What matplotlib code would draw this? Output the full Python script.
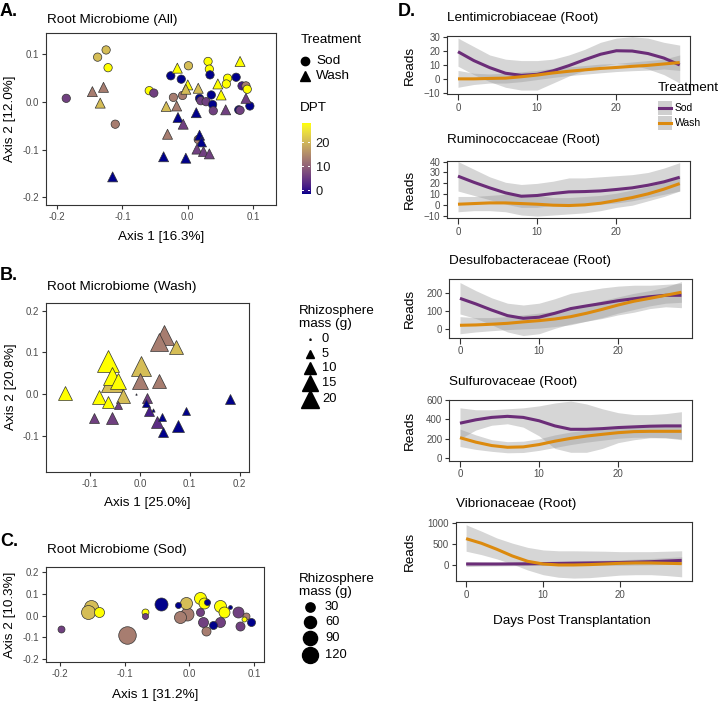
import numpy as np
import matplotlib
matplotlib.use("Agg")
import matplotlib.pyplot as plt
from matplotlib.colors import ListedColormap, Normalize
from matplotlib.patches import Rectangle
from matplotlib.lines import Line2D

plt.rcParams['font.family'] = ['Liberation Sans', 'DejaVu Sans']

# ------------------------------------------------------------------ data
# Panel A: Root microbiome (All) -- Sod (circles)
sodA_x = [-0.125, -0.138, -0.122, -0.186, -0.111, 0.001, 0.031, 0.033, 0.034, -0.026,
          -0.010, 0.061, 0.059, 0.074, 0.083, 0.089, 0.091, -0.059, -0.052, -0.022,
          -0.008, 0.036, 0.018, 0.020, 0.028, 0.038, 0.039, 0.078, 0.080, 0.095, 0.016]
sodA_y = [0.108, 0.093, 0.071, 0.007, -0.047, 0.075, 0.084, 0.068, 0.056, 0.054,
          0.047, 0.049, 0.037, 0.051, 0.033, 0.033, 0.026, 0.023, 0.018, 0.009,
          0.013, 0.014, 0.007, 0.002, 0.000, -0.006, -0.019, -0.017, -0.018, -0.009, -0.079]
sodA_dpt = [21, 21, 28, 7, 14, 21, 28, 28, 0, 0,
            0, 28, 28, 0, 3, 14, 28, 28, 7, 14,
            14, 0, 0, 7, 7, 0, 7, 0, 7, 0, 14]
# Panel A -- Wash (triangles)
washA_x = [-0.146, -0.129, -0.134, -0.115, -0.016, 0.080, 0.000, -0.003, 0.016, 0.046,
           0.051, -0.033, -0.017, 0.013, -0.015, -0.007, -0.031, 0.018, 0.021, 0.014,
           0.024, 0.033, -0.037, -0.003, 0.058, 0.089]
washA_y = [0.021, 0.030, -0.003, -0.157, 0.070, 0.084, 0.035, 0.026, 0.028, 0.037,
           0.014, -0.010, -0.009, -0.023, -0.033, -0.047, -0.068, -0.070, -0.084, -0.099,
           -0.104, -0.109, -0.115, -0.118, -0.017, 0.007]
washA_dpt = [14, 14, 21, 0, 28, 28, 28, 21, 21, 28,
             28, 21, 14, 0, 0, 7, 14, 0, 0, 7,
             7, 7, 0, 0, 7, 7]

# Panel B: Root microbiome (Wash)
washB_x = [-0.150, -0.064, -0.057, -0.057, -0.044, -0.082, -0.064, -0.035, -0.045, 0.001,
           -0.001, 0.038, 0.048, 0.038, 0.072, -0.008, 0.013, 0.012, 0.018, 0.027,
           0.035, 0.045, 0.047, 0.077, 0.092, -0.092, -0.057, 0.180]
washB_y = [0.003, 0.079, 0.042, 0.031, 0.031, -0.008, -0.020, -0.005, -0.026, 0.066,
           0.030, 0.032, 0.141, 0.125, 0.112, 0.000, -0.010, -0.022, -0.042, -0.038,
           -0.066, -0.054, -0.090, -0.076, -0.041, -0.057, -0.057, -0.012]
washB_dpt = [28, 28, 28, 21, 28, 28, 28, 21, 7, 21,
             14, 14, 14, 14, 21, 0, 7, 0, 3, 0,
             5, 0, 0, 0, 0, 7, 7, 0]
washB_mass = [12, 28, 18, 26, 14, 11, 10, 11, 4.7, 25,
              15, 12, 24, 20, 12, 0.3, 6.5, 5, 6.5, 1,
              8, 3.5, 5.5, 8, 5, 6.5, 8.8, 6.5]

# Panel C: Root microbiome (Sod)
sodC_x = [-0.199, -0.152, -0.157, -0.139, -0.096, -0.068, -0.068, -0.044, -0.017, -0.014,
          -0.003, -0.005, 0.017, 0.022, 0.028, 0.016, 0.021, 0.026, 0.037, 0.047,
          0.048, 0.053, 0.063, 0.076, 0.087, 0.085, 0.079, 0.096]
sodC_y = [-0.061, 0.039, 0.016, 0.014, -0.089, -0.001, 0.018, 0.052, 0.049, -0.007,
          0.006, 0.057, 0.080, 0.057, 0.064, 0.014, -0.032, -0.069, -0.043, -0.032,
          0.045, 0.018, 0.039, 0.014, 0.000, -0.017, -0.047, -0.029]
sodC_dpt = [7, 21, 21, 28, 14, 7, 28, 0, 0, 14,
            14, 21, 28, 28, 0, 7, 7, 14, 0, 7,
            28, 28, 0, 7, 14, 28, 7, 0]
sodC_mass = [13, 87, 87, 37, 150, 8, 13, 73, 8, 60,
             73, 60, 60, 47, 8, 20, 37, 28, 20, 37,
             60, 47, 1, 47, 13, 4, 28, 20]

# Panel D: smoothed read counts over days post transplantation
days = [0, 2, 4, 6, 8, 10, 12, 14, 16, 18, 20, 22, 24, 26, 28]
families = ["Lentimicrobiaceae (Root)", "Ruminococcaceae (Root)", "Desulfobacteraceae (Root)",
            "Sulfurovaceae (Root)", "Vibrionaceae (Root)"]

lenti_sod = [19.3, 13, 8, 4, 2.5, 3.2, 5.7, 9.4, 13.6, 17.5, 20, 19.8, 18, 14.8, 9.9]
lenti_sod_hi = [29, 23, 17, 14, 13, 13, 14, 17, 21, 26, 29, 30, 29, 26, 24]
lenti_sod_lo = [9, 3, -2, -6, -8, -8, -3, 2, 6, 9, 11, 10, 7, 3, -3]
lenti_wash = [0, 0, 0.3, 0.5, 1.5, 2.7, 4.2, 5.4, 6.4, 7.4, 8.1, 8.9, 9.6, 10.6, 11.6]
lenti_wash_hi = [6, 4, 3.5, 4, 5, 6, 7.5, 8.5, 9.5, 10.5, 11, 12, 13, 14, 17]
lenti_wash_lo = [-6, -4, -3, -3, -2, -0.5, 1, 2.3, 3.3, 4.3, 5.2, 5.8, 6.2, 7, 6]

rumino_sod = [26.6, 21, 15.9, 11.3, 8.2, 8.9, 10.7, 12.2, 12.5, 13.1, 14.4, 15.9, 18.3, 21.4, 25.6]
rumino_sod_hi = [40, 33, 26, 21, 19, 20, 22, 25, 25, 26, 27, 28, 30, 34, 39]
rumino_sod_lo = [13, 9, 5, 1, -2, -2, 0, 0, 1, 1, 2, 4, 7, 10, 13]
rumino_wash = [0.9, 1.5, 2.1, 2.1, 1.5, 0.9, 0, -0.3, 0.3, 1.8, 4.3, 7, 10.4, 14.7, 19.8]
rumino_wash_hi = [8, 8, 9, 10, 10, 9, 7, 7, 8, 9, 11, 14, 17, 21, 27]
rumino_wash_lo = [-6, -5, -5, -6, -9, -10, -9, -8, -7, -5, -2, 0, 4, 8, 13]

desulfo_sod = [172, 141, 107, 76, 61, 67, 89, 115, 130, 144, 159, 170, 181, 189, 189]
desulfo_sod_hi = [260, 215, 175, 145, 135, 145, 170, 200, 215, 230, 240, 245, 245, 250, 255]
desulfo_sod_lo = [85, 60, 25, -15, -35, -25, 5, 30, 45, 60, 80, 95, 115, 125, 120]
desulfo_wash = [22, 24, 28, 33, 41, 48, 57, 70, 89, 111, 135, 156, 172, 189, 206]
desulfo_wash_hi = [70, 65, 65, 70, 80, 90, 100, 115, 135, 160, 180, 200, 215, 235, 265]
desulfo_wash_lo = [-25, -15, -8, -2, 2, 6, 15, 25, 45, 65, 90, 110, 130, 145, 150]

sulfuro_sod = [361, 396, 421, 432, 421, 386, 333, 298, 298, 305, 316, 323, 330, 333, 333]
sulfuro_sod_hi = [520, 500, 500, 510, 520, 540, 570, 590, 560, 510, 470, 450, 450, 460, 480]
sulfuro_sod_lo = [200, 290, 340, 355, 320, 230, 100, 60, 60, 100, 160, 190, 210, 210, 190]
sulfuro_wash = [211, 165, 130, 112, 116, 140, 175, 204, 228, 246, 263, 274, 277, 277, 277]
sulfuro_wash_hi = [300, 240, 190, 170, 175, 200, 240, 270, 290, 305, 320, 330, 335, 340, 350]
sulfuro_wash_lo = [120, 90, 70, 55, 58, 80, 110, 140, 165, 185, 205, 215, 215, 210, 200]

vibrio_sod = [30, 30, 30, 32, 35, 40, 45, 50, 55, 60, 65, 75, 85, 100, 115]
vibrio_sod_hi = [90, 80, 75, 75, 75, 80, 90, 100, 110, 120, 130, 145, 160, 180, 200]
vibrio_sod_lo = [-30, -20, -15, -10, -5, 0, 0, 0, 0, 0, 0, 5, 10, 20, 30]
vibrio_wash = [625, 516, 375, 219, 94, 31, 8, 8, 16, 31, 47, 55, 55, 47, 39]
vibrio_wash_hi = [950, 800, 640, 520, 420, 360, 340, 340, 335, 330, 320, 320, 320, 330, 340]
vibrio_wash_lo = [330, 250, 150, 30, -110, -220, -280, -300, -290, -260, -230, -220, -220, -240, -270]

# legend values
mass_breaks_B = [0, 5, 10, 15, 20]
mass_breaks_C = [30, 60, 90, 120]
dpt_breaks = [0, 10, 20]

# ------------------------------------------------------------------ helpers
W, H = 720, 702
fig = plt.figure(figsize=(W / 100, H / 100), dpi=100)


def box(l, t, r, b):
    return [l / W, 1 - b / H, (r - l) / W, (b - t) / H]


def ftext(x, y, s, **kw):
    kw.setdefault('va', 'center')
    kw.setdefault('ha', 'left')
    fig.text(x / W, 1 - y / H, s, **kw)


# ggplot-like Lab gradient darkblue -> yellow
def srgb2lab(rgb):
    c = np.asarray(rgb, float)
    lin = np.where(c <= 0.04045, c / 12.92, ((c + 0.055) / 1.055) ** 2.4)
    M = np.array([[0.4124, 0.3576, 0.1805], [0.2126, 0.7152, 0.0722], [0.0193, 0.1192, 0.9505]])
    xyz = M @ lin / np.array([0.95047, 1.0, 1.08883])
    f = np.where(xyz > 0.008856, np.cbrt(xyz), 7.787 * xyz + 16 / 116)
    return np.array([116 * f[1] - 16, 500 * (f[0] - f[1]), 200 * (f[1] - f[2])])


def lab2srgb(lab):
    L, a, b = lab
    fy = (L + 16) / 116
    fx = fy + a / 500
    fz = fy - b / 200
    f = np.array([fx, fy, fz])
    xyz = np.where(f ** 3 > 0.008856, f ** 3, (f - 16 / 116) / 7.787) * np.array([0.95047, 1.0, 1.08883])
    Minv = np.array([[3.2406, -1.5372, -0.4986], [-0.9689, 1.8758, 0.0415], [0.0557, -0.2040, 1.0570]])
    lin = np.clip(Minv @ xyz, 0, 1)
    c = np.where(lin <= 0.0031308, 12.92 * lin, 1.055 * lin ** (1 / 2.4) - 0.055)
    return np.clip(c, 0, 1)


lab_lo = srgb2lab([0, 0, 139 / 255])
lab_hi = srgb2lab([1, 1, 0])
cmap = ListedColormap([lab2srgb(lab_lo + (lab_hi - lab_lo) * t) for t in np.linspace(0, 1, 256)])
norm = Normalize(0, 28)

SPINE = '#333333'
TICKC = '#4D4D4D'
TS = 9.7     # titles / labels
TK = 7.0     # tick labels
LG = 9.3     # legend labels


def style(ax):
    for s in ax.spines.values():
        s.set_color(SPINE)
        s.set_linewidth(0.8)
    ax.tick_params(direction='out', length=3, width=0.8, color=SPINE, labelcolor=TICKC,
                   labelsize=TK, pad=2)


def tri_ms(v):      # marker width (pt) for Wash rhizosphere mass
    return max(1.5, -1 + 19.3 * np.sqrt(v / 20)) * 0.72


def circ_ms(v):     # marker diameter (pt) for Sod rhizosphere mass
    return (2.6 + 1.22 * np.sqrt(v)) * 0.72


EDGE = '#333333'

# ------------------------------------------------------------------ Panel A
axA = fig.add_axes(box(46, 33, 276, 205))
style(axA)
axA.scatter(sodA_x, sodA_y, c=sodA_dpt, cmap=cmap, norm=norm, marker='o', s=36,
            edgecolors=EDGE, linewidths=0.5, zorder=3)
axA.scatter(washA_x, washA_y, c=washA_dpt, cmap=cmap, norm=norm, marker='^', s=52,
            edgecolors=EDGE, linewidths=0.5, zorder=3)
axA.set_xlim(-0.217, 0.135)
axA.set_ylim(-0.2157, 0.1434)
axA.set_xticks([-0.2, -0.1, 0.0, 0.1])
axA.set_yticks([-0.2, -0.1, 0.0, 0.1])
axA.xaxis.set_major_formatter(matplotlib.ticker.FormatStrFormatter('%.1f'))
axA.yaxis.set_major_formatter(matplotlib.ticker.FormatStrFormatter('%.1f'))
ftext(0, 11, "A.", fontsize=13, fontweight='bold')
ftext(46.5, 20, "Root Microbiome (All)", fontsize=TS)
ftext(161, 237, "Axis 1 [16.3%]", fontsize=TS, ha='center')
ftext(10, 119, "Axis 2 [12.0%]", fontsize=TS, ha='center', rotation=90)

# legend A
ftext(301, 40, "Treatment", fontsize=TS)
fig.add_artist(Line2D([305 / W], [1 - 61 / H], marker='o', color='black', markersize=6, lw=0))
fig.add_artist(Line2D([305 / W], [1 - 76 / H], marker='^', color='black', markersize=6.5, lw=0))
ftext(316, 61, "Sod", fontsize=TS)
ftext(316, 76, "Wash", fontsize=TS)
ftext(300, 108, "DPT", fontsize=TS)
axcb = fig.add_axes(box(301.7, 123, 310, 193.7))
grad = np.linspace(0, 28, 200).reshape(-1, 1)
axcb.imshow(grad, cmap=cmap, norm=norm, aspect='auto', origin='lower', extent=(0, 1, -1.5, 28))
axcb.set_xlim(0, 1)
axcb.set_ylim(-1.5, 28)
for s in axcb.spines.values():
    s.set_visible(False)
axcb.set_xticks([])
axcb.yaxis.tick_right()
axcb.set_yticks(dpt_breaks)
axcb.tick_params(axis='y', length=0, pad=4, labelsize=LG, labelcolor='#1a1a1a')
for v in dpt_breaks:
    axcb.plot([0, 0.2], [v, v], color='white', lw=0.7)
    axcb.plot([0.8, 1], [v, v], color='white', lw=0.7)

# ------------------------------------------------------------------ Panel B
axB = fig.add_axes(box(46, 303, 249, 472))
style(axB)
for x, y, d, m in sorted(zip(washB_x, washB_y, washB_dpt, washB_mass), key=lambda r: -r[3]):
    axB.plot([x], [y], marker='^', ms=tri_ms(m), mfc=cmap(norm(d)), mec=EDGE, mew=0.5, lw=0, zorder=3)
axB.set_xlim(-0.189, 0.219)
axB.set_ylim(-0.187, 0.218)
axB.set_xticks([-0.1, 0.0, 0.1, 0.2])
axB.set_yticks([-0.1, 0.0, 0.1, 0.2])
axB.xaxis.set_major_formatter(matplotlib.ticker.FormatStrFormatter('%.1f'))
axB.yaxis.set_major_formatter(matplotlib.ticker.FormatStrFormatter('%.1f'))
ftext(0, 276, "B.", fontsize=13, fontweight='bold')
ftext(46.5, 287, "Root Microbiome (Wash)", fontsize=TS)
ftext(147, 503, "Axis 1 [25.0%]", fontsize=TS, ha='center')
ftext(11, 387, "Axis 2 [20.8%]", fontsize=TS, ha='center', rotation=90)

ftext(299, 311, "Rhizosphere", fontsize=TS)
ftext(299, 324, "mass (g)", fontsize=TS)
for i, v in enumerate(mass_breaks_B):
    yy = [339, 354, 368, 383, 399][i]
    fig.add_artist(Line2D([310 / W], [1 - yy / H], marker='^', color='black',
                          markersize=tri_ms(v), lw=0))
    ftext(322, yy, str(v), fontsize=LG)

# ------------------------------------------------------------------ Panel C
axC = fig.add_axes(box(46, 567.3, 264, 662.3))
style(axC)
for x, y, d, m in sorted(zip(sodC_x, sodC_y, sodC_dpt, sodC_mass), key=lambda r: -r[3]):
    axC.plot([x], [y], marker='o', ms=circ_ms(m), mfc=cmap(norm(d)), mec=EDGE, mew=0.5, lw=0, zorder=3)
axC.set_xlim(-0.2216, 0.1155)
axC.set_ylim(-0.215, 0.2216)
axC.set_xticks([-0.2, -0.1, 0.0, 0.1])
axC.set_yticks([-0.2, -0.1, 0.0, 0.1, 0.2])
axC.xaxis.set_major_formatter(matplotlib.ticker.FormatStrFormatter('%.1f'))
axC.yaxis.set_major_formatter(matplotlib.ticker.FormatStrFormatter('%.1f'))
ftext(0, 541, "C.", fontsize=13, fontweight='bold')
ftext(46.5, 550, "Root Microbiome (Sod)", fontsize=TS)
ftext(155, 695, "Axis 1 [31.2%]", fontsize=TS, ha='center')
ftext(10, 615, "Axis 2 [10.3%]", fontsize=TS, ha='center', rotation=90)

ftext(299, 579, "Rhizosphere", fontsize=TS)
ftext(299, 592, "mass (g)", fontsize=TS)
for i, v in enumerate(mass_breaks_C):
    yy = [607, 622, 638, 655][i]
    fig.add_artist(Line2D([310 / W], [1 - yy / H], marker='o', color='black',
                          markersize=circ_ms(v), lw=0))
    ftext(325, yy, str(v), fontsize=LG)

# ------------------------------------------------------------------ Panel D
SOD_C = '#6B2D78'
WASH_C = '#DC8A0E'
panels = [
    (families[0], (447.3, 36, 690, 94.3), (-11, 30.5), [-10, 0, 10, 20, 30],
     lenti_sod, lenti_sod_lo, lenti_sod_hi, lenti_wash, lenti_wash_lo, lenti_wash_hi, 18),
    (families[1], (447.3, 161, 690, 218.3), (-12, 40.5), [-10, 0, 10, 20, 30, 40],
     rumino_sod, rumino_sod_lo, rumino_sod_hi, rumino_wash, rumino_wash_lo, rumino_wash_hi, 140),
    (families[2], (449.3, 279.3, 691.7, 337.7), (-47, 278), [0, 100, 200],
     desulfo_sod, desulfo_sod_lo, desulfo_sod_hi, desulfo_wash, desulfo_wash_lo, desulfo_wash_hi, 261),
    (families[3], (449.3, 400, 691.7, 461), (-30, 601), [0, 200, 400, 600],
     sulfuro_sod, sulfuro_sod_lo, sulfuro_sod_hi, sulfuro_wash, sulfuro_wash_lo, sulfuro_wash_hi, 382),
    (families[4], (455.7, 522, 691.7, 581.3), (-375, 1015), [0, 500, 1000],
     vibrio_sod, vibrio_sod_lo, vibrio_sod_hi, vibrio_wash, vibrio_wash_lo, vibrio_wash_hi, 504),
]
for (title, bx, ylim, yt, sm, sl, sh, wm, wl, wh, ty) in panels:
    ax = fig.add_axes(box(*bx))
    style(ax)
    ax.fill_between(days, sl, sh, color='#999999', alpha=0.4, lw=0, zorder=1)
    ax.fill_between(days, wl, wh, color='#999999', alpha=0.4, lw=0, zorder=1)
    ax.plot(days, sm, color=SOD_C, lw=2.2, zorder=3, solid_capstyle='butt')
    ax.plot(days, wm, color=WASH_C, lw=2.2, zorder=3, solid_capstyle='butt')
    ax.set_xlim(-1.35, 29.3)
    ax.set_ylim(*ylim)
    ax.set_xticks([0, 10, 20])
    ax.set_yticks(yt)
    ax.tick_params(axis='x', length=4)
    ftext(bx[0], ty, title, fontsize=TS)
    ftext(410, (bx[1] + bx[3]) / 2, "Reads", fontsize=TS, ha='center', rotation=90)

ftext(398, 11, "D.", fontsize=13, fontweight='bold')
ftext(572, 621, "Days Post Transplantation", fontsize=TS, ha='center')

# legend D
ftext(658, 88, "Treatment", fontsize=TS)
for yy, col, lab in [(108, SOD_C, "Sod"), (123, WASH_C, "Wash")]:
    fig.add_artist(Rectangle((658 / W, 1 - (yy + 7) / H), 14 / W, 14 / H,
                             transform=fig.transFigure, color='#CFCFCF', lw=0))
    fig.add_artist(Line2D([659 / W, 671 / W], [1 - yy / H, 1 - yy / H], color=col, lw=2.2))
    ftext(675, yy, lab, fontsize=7.5)

fig.savefig("out.png", dpi=100)
